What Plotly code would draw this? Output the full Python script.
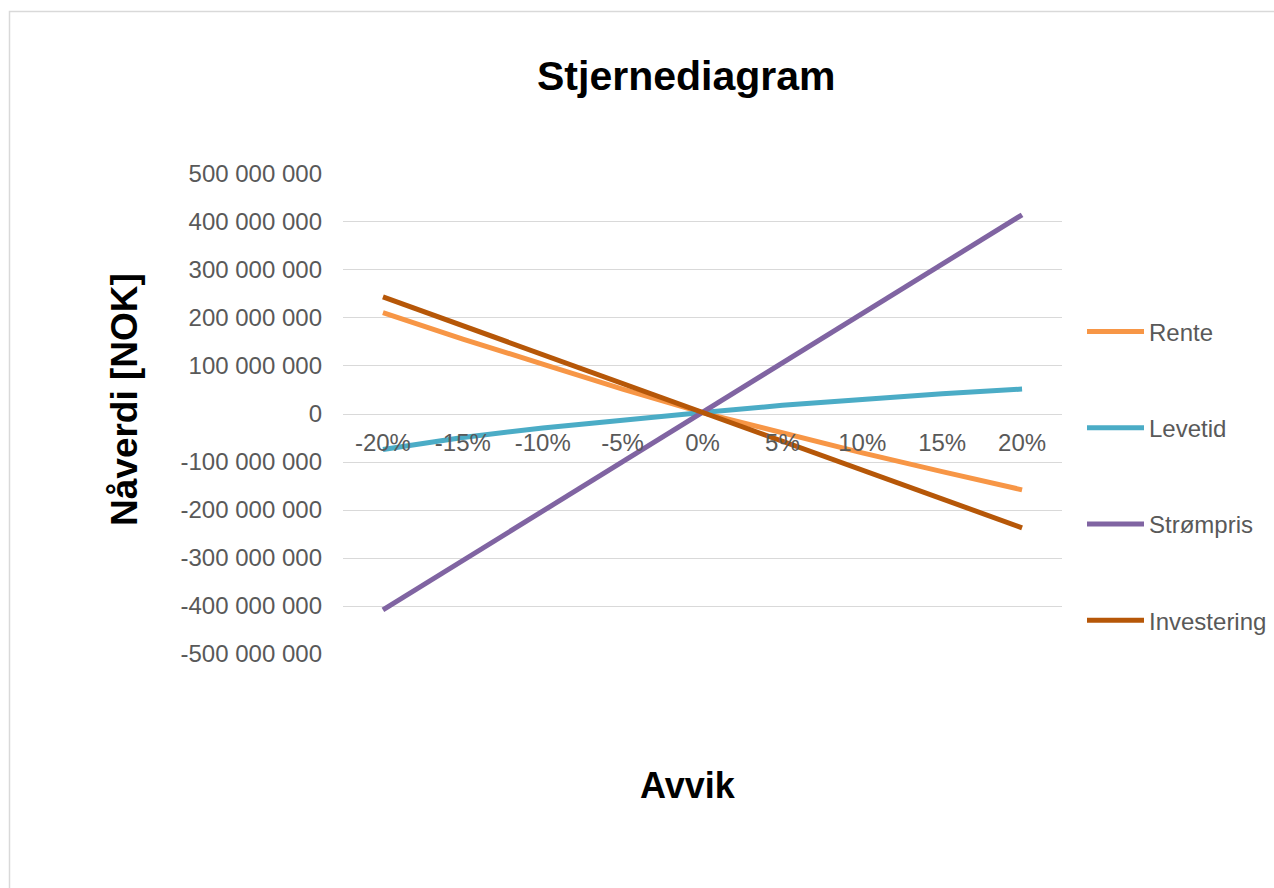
import plotly.graph_objects as go

# Sensitivity of net present value to deviation in each input
avvik = ["-20%", "-15%", "-10%", "-5%", "0%", "5%", "10%", "15%", "20%"]
rente = [211e6, 156e6, 104e6, 52e6, 3e6, -40e6, -81e6, -120e6, -158e6]
levetid = [-74e6, -49e6, -29e6, -12e6, 3e6, 18e6, 31e6, 42e6, 52e6]
strompris = [-408e6, -305e6, -202e6, -100e6, 3e6, 106e6, 209e6, 312e6, 415e6]
investering = [244e6, 184e6, 124e6, 64e6, 3e6, -57e6, -117e6, -177e6, -237e6]

y_ticks = [-500e6, -400e6, -300e6, -200e6, -100e6, 0, 100e6, 200e6, 300e6, 400e6, 500e6]
y_tick_text = ["-500 000 000", "-400 000 000", "-300 000 000", "-200 000 000",
               "-100 000 000", "0", "100 000 000", "200 000 000", "300 000 000",
               "400 000 000", "500 000 000"]

series = [
    ("Rente", rente, "#F79646"),
    ("Levetid", levetid, "#4BACC6"),
    ("Strømpris", strompris, "#8064A2"),
    ("Investering", investering, "#B65708"),
]

FONT = "Liberation Sans, Arial, sans-serif"
W, H = 1274, 888
ML, MR, MT, MB = 343, 212, 173, 233

fig = go.Figure()
for name, vals, color in series:
    fig.add_trace(go.Scatter(
        x=avvik, y=vals, name=name, mode="lines",
        line=dict(color=color, width=5),
        legendgroup=name,
    ))

pw = W - ML - MR
ph = H - MT - MB


def px_x(p):
    return (p - ML) / pw


def px_y(p):
    return (H - MB - p) / ph


fig.update_layout(
    width=W, height=H,
    margin=dict(l=ML, r=MR, t=MT, b=MB, pad=0, autoexpand=False),
    paper_bgcolor="white",
    plot_bgcolor="white",
    font=dict(family=FONT, color="#595959", size=24),
    showlegend=True,
    legend=dict(
        x=px_x(1082), xanchor="left",
        y=px_y(476), yanchor="middle",
        font=dict(size=24, color="#595959", family=FONT),
        tracegroupgap=62,
        itemwidth=57,
        bgcolor="rgba(0,0,0,0)",
    ),
    xaxis=dict(
        type="category",
        range=[-0.5, 8.5],
        anchor="free",
        position=0.5,
        showgrid=False,
        showline=False,
        zeroline=False,
        ticks="",
        ticklabelstandoff=12,
        tickfont=dict(size=24, color="#595959", family=FONT),
    ),
    yaxis=dict(
        range=[-502e6, 502e6],
        tickvals=y_ticks,
        ticktext=y_tick_text,
        showgrid=True,
        gridcolor="#D9D9D9",
        gridwidth=1.3,
        zeroline=False,
        showline=False,
        ticks="",
        ticklabelstandoff=20,
        tickfont=dict(size=24, color="#595959", family=FONT),
    ),
    annotations=[
        dict(text="<b>Stjernediagram</b>", xref="paper", yref="paper",
             x=px_x(686), y=px_y(76), xanchor="center", yanchor="middle",
             showarrow=False, font=dict(size=41, color="black", family=FONT)),
        dict(text="<b>Avvik</b>", xref="paper", yref="paper",
             x=px_x(688), y=px_y(785), xanchor="center", yanchor="middle",
             showarrow=False, font=dict(size=36, color="black", family=FONT)),
        dict(text="<b>Nåverdi [NOK]</b>", xref="paper", yref="paper",
             x=px_x(124), y=px_y(400), xanchor="center", yanchor="middle",
             textangle=-90,
             showarrow=False, font=dict(size=37, color="black", family=FONT)),
    ],
    shapes=[
        # chart-area border
        dict(type="rect", xref="paper", yref="paper",
             x0=px_x(9.5), x1=px_x(1300), y0=px_y(920), y1=px_y(11.5),
             line=dict(color="#D9D9D9", width=1.5), fillcolor="rgba(0,0,0,0)",
             layer="below"),
    ],
)

fig.write_html("out.html")
